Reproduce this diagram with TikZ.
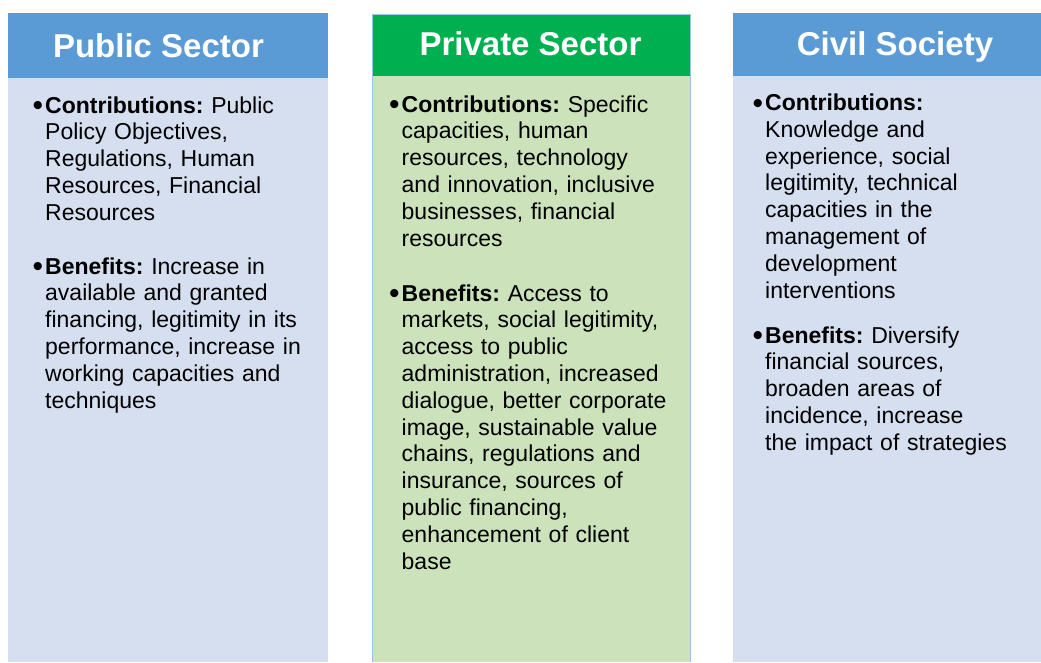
\documentclass[tikz,border=0pt]{standalone}
\usepackage{fontspec}
\setmainfont{Liberation Sans}
\frenchspacing
\definecolor{hdrblue}{HTML}{5B9BD5}
\definecolor{hdrgreen}{HTML}{00B050}
\definecolor{bodyblue}{HTML}{D6DFEF}
\definecolor{bodygreen}{HTML}{CCE2BA}
\definecolor{edgeblue}{HTML}{9DC3E6}
\tikzset{
  panel/.style={rectangle, inner sep=0pt, outer sep=0pt, anchor=north west, draw=none},
  hdrtext/.style={inner sep=0pt, anchor=base, text=white, font=\fontsize{33}{36}\selectfont\bfseries},
  bodytext/.style={inner sep=0pt, anchor=base west, text width=300pt, align=left, text=black, font=\fontsize{23}{26.8}\selectfont\frenchspacing},
}
\newcommand{\bul}{\llap{\raisebox{-2.5pt}{\fontsize{30}{30}\selectfont•}\hspace{2pt}}}
\begin{document}
\begin{tikzpicture}[x=1pt,y=-1pt]
\useasboundingbox[fill=white] (0,0) rectangle (1041,662);
% Public sector
\node[panel, fill=bodyblue, minimum width=320pt, minimum height=584pt] (pubB) at (8,78) {};
\node[panel, fill=hdrblue, minimum width=320pt, minimum height=65pt] (pubH) at (8,13) {};
\node[hdrtext] (pubT) at (158.5,57) {Public Sector};
\node[bodytext] (pubC) at (45,113) {\bul\textbf{Contributions:} Public\\Policy Objectives,\\Regulations, Human\\Resources, Financial\\Resources};
\node[bodytext] (pubBen) at (45,274) {\bul\textbf{Benefits:} Increase in\\available and granted\\financing, legitimity in its\\performance, increase in\\working capacities and\\techniques};
% Private sector
\node[panel, fill=bodygreen, minimum width=318pt, minimum height=586pt] (priB) at (372,76) {};
\node[panel, fill=hdrgreen, minimum width=318pt, minimum height=62pt] (priH) at (372,14) {};
\draw[edgeblue, line width=1pt] (priH.north west) -- (priH.north east) -- (priB.south east);
\draw[edgeblue, line width=1pt] (priH.north west) -- (priB.south west);
\node[hdrtext] (priT) at (530.5,55) {Private Sector};
\node[bodytext] (priC) at (401.5,112) {\bul\textbf{Contributions:} Specific\\capacities, human\\resources, technology\\and innovation, inclusive\\businesses, financial\\resources};
\node[bodytext] (priBen) at (401.5,301) {\bul\textbf{Benefits:} Access to\\markets, social legitimity,\\access to public\\administration, increased\\dialogue, better corporate\\image, sustainable value\\chains, regulations and\\insurance, sources of\\public financing,\\enhancement of client\\base};
% Civil society
\node[panel, fill=bodyblue, minimum width=308pt, minimum height=586pt] (civB) at (733,76) {};
\node[panel, fill=hdrblue, minimum width=308pt, minimum height=63pt] (civH) at (733,13) {};
\node[hdrtext] (civT) at (895,55) {Civil Society};
\node[bodytext] (civC) at (765,110.5) {\bul\textbf{Contributions:}\\Knowledge and\\experience, social\\legitimity, technical\\capacities in the\\management of\\development\\interventions};
\node[bodytext] (civBen) at (765,343) {\bul\textbf{Benefits:} Diversify\\financial sources,\\broaden areas of\\incidence, increase\\the impact of strategies};
\end{tikzpicture}
\end{document}
